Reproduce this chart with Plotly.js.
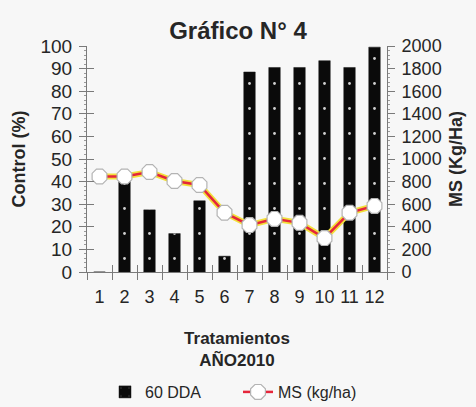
<!DOCTYPE html>
<html>
<head>
<meta charset="utf-8">
<script src="https://cdn.plot.ly/plotly-3.0.1.min.js"></script>
<style>html,body{margin:0;padding:0;background:#f7f7f7;}#chart{width:476px;height:407px;}</style>
</head>
<body>
<div id="chart"></div>
<script>
const categories = ['1','2','3','4','5','6','7','8','9','10','11','12'];
const control60DDA = [0, 40, 27.5, 17, 31.5, 7, 88.5, 90.5, 90.5, 93.5, 90.5, 99.5];
const msKgHa = [845, 845, 885, 805, 770, 525, 415, 470, 435, 300, 525, 585];
const leftTicks = [0,10,20,30,40,50,60,70,80,90,100];
const rightTicks = [0,200,400,600,800,1000,1200,1400,1600,1800,2000];

const txt = '#262626';
const axCol = '#7a7a7a';
const fam = 'Liberation Sans, Arial, sans-serif';

const data = [
  {
    type: 'bar', x: categories, y: control60DDA, name: '60 DDA', xaxis: 'x', yaxis: 'y',
    width: 0.46,
    marker: {color: '#0a0a0a', line: {color: '#1a1a1a', width: 0.5},
      pattern: {shape: '.', fgcolor: '#d0d0d0', bgcolor: '#0a0a0a', size: 25, solidity: 0.01}}
  },
  {
    type: 'scatter', mode: 'lines', x: categories, y: msKgHa, xaxis: 'x', yaxis: 'y2',
    line: {color: '#f2e03a', width: 6}, showlegend: false, hoverinfo: 'skip'
  },
  {
    type: 'scatter', mode: 'lines+markers', x: categories, y: msKgHa, xaxis: 'x', yaxis: 'y2',
    name: 'MS (kg/ha)',
    line: {color: '#e5263a', width: 2.5},
    marker: {symbol: 'octagon', size: 16, color: '#ffffff', line: {color: '#b4b4b4', width: 1.2}}
  },
  {type: 'scatter', x: [categories[0]], y: [null], xaxis: 'x', yaxis: 'y3', showlegend: false, hoverinfo: 'skip'},
  {type: 'scatter', x: [categories[0]], y: [null], xaxis: 'x2', yaxis: 'y', showlegend: false, hoverinfo: 'skip'}
];

const layout = {
  width: 476, height: 407,
  paper_bgcolor: '#f7f7f7', plot_bgcolor: 'rgba(0,0,0,0)',
  margin: {l: 87, r: 89, t: 46, b: 135, autoexpand: false},
  font: {family: fam, size: 18, color: txt},
  title: {text: '<b>Gráfico N° 4</b>', x: 0.5, xanchor: 'center', y: 0.926, yanchor: 'middle',
    font: {family: fam, size: 24, color: txt}},
  xaxis: {
    type: 'category', categoryorder: 'array', categoryarray: categories,
    range: [-0.5, 11.5], tickangle: 0, automargin: false,
    showline: true, linecolor: axCol, linewidth: 1,
    ticks: 'outside', ticklen: 7, tickcolor: axCol, tickson: 'boundaries',
    showgrid: false, zeroline: false,
    tickfont: {family: fam, size: 18, color: txt},
    ticklabelstandoff: 8,
    title: {text: '<b>Tratamientos</b><br><b>AÑO2010</b>', standoff: 26,
      font: {family: fam, size: 17, color: txt}}
  },
  xaxis2: {
    type: 'category', categoryorder: 'array', categoryarray: categories,
    range: [-0.5, 11.5], overlaying: 'x', side: 'bottom', anchor: 'y', automargin: false,
    showticklabels: false, ticks: 'inside', ticklen: 7, tickcolor: axCol, tickson: 'boundaries',
    showgrid: false, zeroline: false, showline: false
  },
  yaxis: {
    range: [0, 100], tickvals: leftTicks, showline: true, linecolor: axCol, linewidth: 1,
    automargin: false,
    ticks: 'outside', ticklen: 7, tickcolor: axCol, showgrid: false, zeroline: false,
    minor: {dtick: 2, ticks: 'outside', ticklen: 2, tickcolor: '#9a9a9a'},
    tickfont: {family: fam, size: 19, color: txt},
    ticklabelstandoff: 3,
    title: {text: '<b>Control (%)</b>', standoff: 10,
      font: {family: fam, size: 18, color: txt}}
  },
  yaxis3: {
    range: [0, 100], tickvals: leftTicks, overlaying: 'y', side: 'left', anchor: 'x',
    automargin: false,
    showticklabels: false, ticks: 'inside', ticklen: 7, tickcolor: axCol,
    showgrid: false, zeroline: false, showline: false
  },
  yaxis2: {
    range: [0, 2000], tickvals: rightTicks, overlaying: 'y', side: 'right', anchor: 'x',
    automargin: false,
    showline: true, linecolor: axCol, linewidth: 1,
    ticks: 'outside', ticklen: 7, tickcolor: axCol, showgrid: false, zeroline: false,
    minor: {dtick: 40, ticks: 'outside', ticklen: 2, tickcolor: '#9a9a9a'},
    tickfont: {family: fam, size: 18, color: txt},
    ticklabelstandoff: 3,
    title: {text: '<b>MS (Kg/Ha)</b>', standoff: 8,
      font: {family: fam, size: 18, color: txt}}
  },
  legend: {
    orientation: 'h', x: 0.06, xanchor: 'left', y: -0.531, yanchor: 'middle',
    bgcolor: 'rgba(0,0,0,0)',
    font: {family: fam, size: 16, color: txt},
    entrywidth: 88, entrywidthmode: 'pixels'
  },
  showlegend: true
};

Plotly.newPlot('chart', data, layout, {displayModeBar: false, staticPlot: true});
</script>
</body>
</html>
